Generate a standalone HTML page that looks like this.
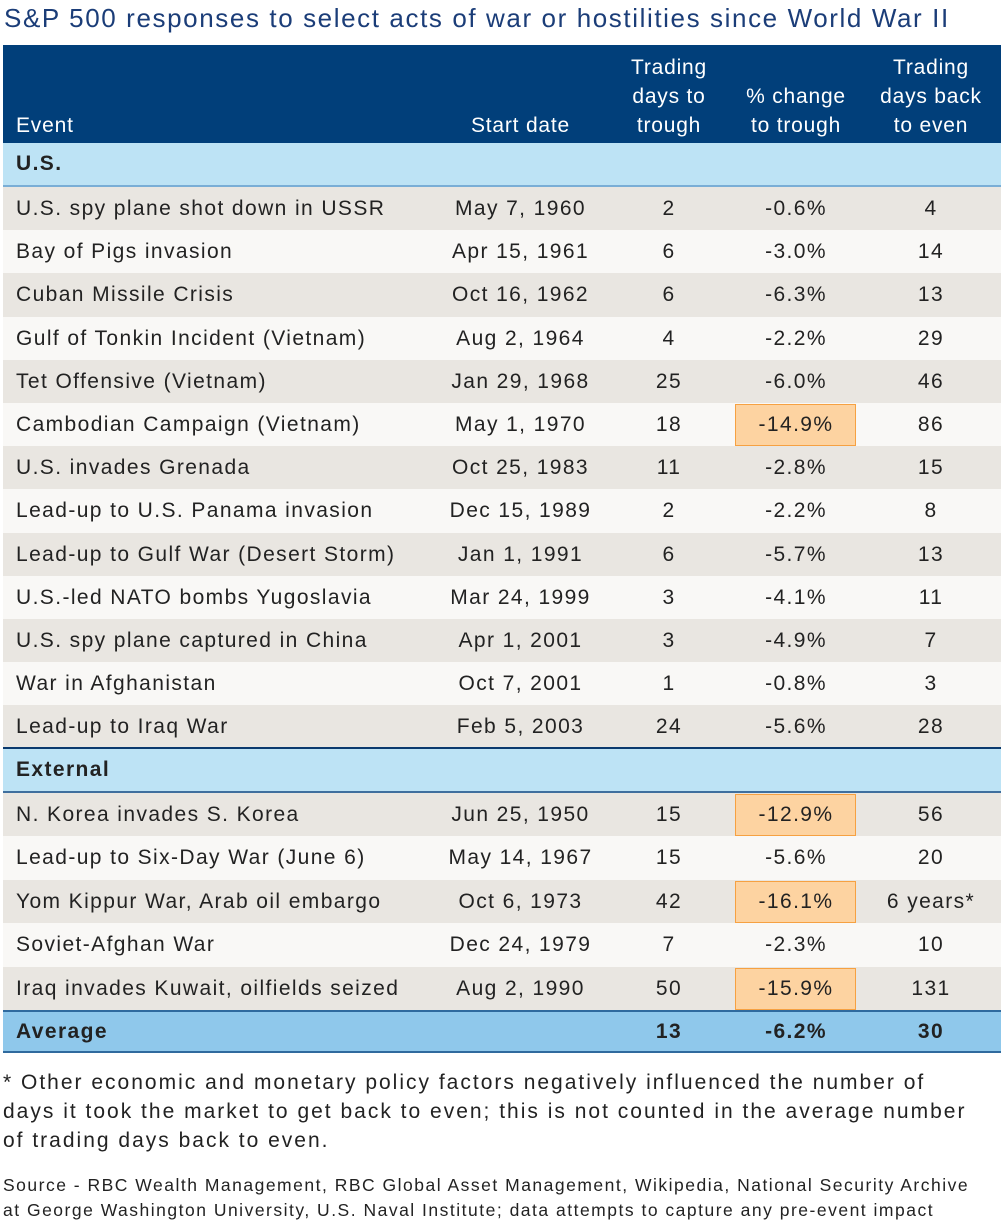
<!DOCTYPE html>
<html><head><meta charset="utf-8"><style>
body{margin:0;width:1004px;height:1232px;background:#fff;font-family:"Liberation Sans",sans-serif;position:relative;overflow:hidden}
.t{position:absolute;left:4px;top:3px;font-size:26px;letter-spacing:1.6px;color:#1b3d78;white-space:nowrap}
.hd{position:absolute;left:3px;top:45px;width:998px;height:98px;background:#013f7a;color:#fff;font-size:21px;letter-spacing:0.8px}
.hd div{position:absolute;line-height:29px;text-align:center}
.r{position:absolute;left:3px;width:998px;font-size:21px;color:#222;letter-spacing:1.4px}
.r span{position:absolute;top:0;white-space:nowrap}
.c1{left:13px}.c2{left:430px;width:175px;text-align:center}.c3{left:616px;width:100px;text-align:center}.c4{left:732px;width:122px;text-align:center}.c5{left:868px;width:120px;text-align:center}
.hl{position:absolute;left:732px;width:121px;background:#fdd3a1;border:1px solid #f6a142;box-sizing:border-box}
.fn{position:absolute;left:3px;font-size:21px;color:#222;line-height:29px;letter-spacing:2px;white-space:nowrap}
.src{position:absolute;left:3px;font-size:17.5px;color:#222;line-height:25px;letter-spacing:1.5px;white-space:nowrap}
</style></head><body>
<div class="t">S&amp;P 500 responses to select acts of war or hostilities since World War II</div>
<div class="hd">
<div style="left:13px;top:66px;text-align:left">Event</div>
<div style="left:430px;width:175px;top:66px">Start date</div>
<div style="left:606px;width:120px;top:8px">Trading<br>days to<br>trough</div>
<div style="left:732px;width:122px;top:37px">% change<br>to trough</div>
<div style="left:858px;width:140px;top:8px">Trading<br>days back<br>to even</div>
</div>
<div id="rows"></div>
<script>
var html='';
function sec(n,top,h,bg,bb){html+='<div class="r" style="top:'+top+'px;height:'+h+'px;background:'+bg+';border-bottom:2px solid '+bb+';box-sizing:border-box;font-weight:bold"><span class="c1" style="line-height:'+(h-2)+'px">'+n+'</span></div>';}
function rows(list,start,h){list.forEach(function(d,i){var t=start+i*h;var bg=i%2?'#f9f8f6':'#e9e6e1';
html+='<div class="r" style="top:'+t+'px;height:'+h+'px;background:'+bg+';line-height:'+h+'px">'+(d[5]?'<div class="hl" style="top:1px;height:'+(h-1)+'px"></div>':'')+'<span class="c1">'+d[0]+'</span><span class="c2">'+d[1]+'</span><span class="c3">'+d[2]+'</span><span class="c4">'+d[3]+'</span><span class="c5">'+d[4]+'</span></div>';});}
sec('U.S.',143,44,'#bde3f5','#7aaed6');
rows([
['U.S. spy plane shot down in USSR','May 7, 1960','2','-0.6%','4'],
['Bay of Pigs invasion','Apr 15, 1961','6','-3.0%','14'],
['Cuban Missile Crisis','Oct 16, 1962','6','-6.3%','13'],
['Gulf of Tonkin Incident (Vietnam)','Aug 2, 1964','4','-2.2%','29'],
['Tet Offensive (Vietnam)','Jan 29, 1968','25','-6.0%','46'],
['Cambodian Campaign (Vietnam)','May 1, 1970','18','-14.9%','86',1],
['U.S. invades Grenada','Oct 25, 1983','11','-2.8%','15'],
['Lead-up to U.S. Panama invasion','Dec 15, 1989','2','-2.2%','8'],
['Lead-up to Gulf War (Desert Storm)','Jan 1, 1991','6','-5.7%','13'],
['U.S.-led NATO bombs Yugoslavia','Mar 24, 1999','3','-4.1%','11'],
['U.S. spy plane captured in China','Apr 1, 2001','3','-4.9%','7'],
['War in Afghanistan','Oct 7, 2001','1','-0.8%','3'],
['Lead-up to Iraq War','Feb 5, 2003','24','-5.6%','28']],187,43.2);
html+='<div class="r" style="top:747px;height:2px;background:#0b3a6e"></div>';
sec('External',749,44,'#bde3f5','#3f6f9e');
rows([
['N. Korea invades S. Korea','Jun 25, 1950','15','-12.9%','56',1],
['Lead-up to Six-Day War (June 6)','May 14, 1967','15','-5.6%','20'],
['Yom Kippur War, Arab oil embargo','Oct 6, 1973','42','-16.1%','6 years*',1],
['Soviet-Afghan War','Dec 24, 1979','7','-2.3%','10'],
['Iraq invades Kuwait, oilfields seized','Aug 2, 1990','50','-15.9%','131',1]],793,43.4);
html+='<div class="r" style="top:1010px;height:43px;background:#8fc8eb;border-top:2px solid #2f6a9e;border-bottom:2px solid #2f6a9e;box-sizing:border-box;line-height:39px;font-weight:bold"><span class="c1">Average</span><span class="c3">13</span><span class="c4">-6.2%</span><span class="c5">30</span></div>';
document.getElementById('rows').outerHTML=html;
</script>
<div class="fn" style="top:1068px">* Other economic and monetary policy factors negatively influenced the number of<br>days it took the market to get back to even; this is not counted in the average number<br>of trading days back to even.</div>
<div class="src" style="top:1173px">Source - RBC Wealth Management, RBC Global Asset Management, Wikipedia, National Security Archive<br>at George Washington University, U.S. Naval Institute; data attempts to capture any pre-event impact</div>
</body></html>
